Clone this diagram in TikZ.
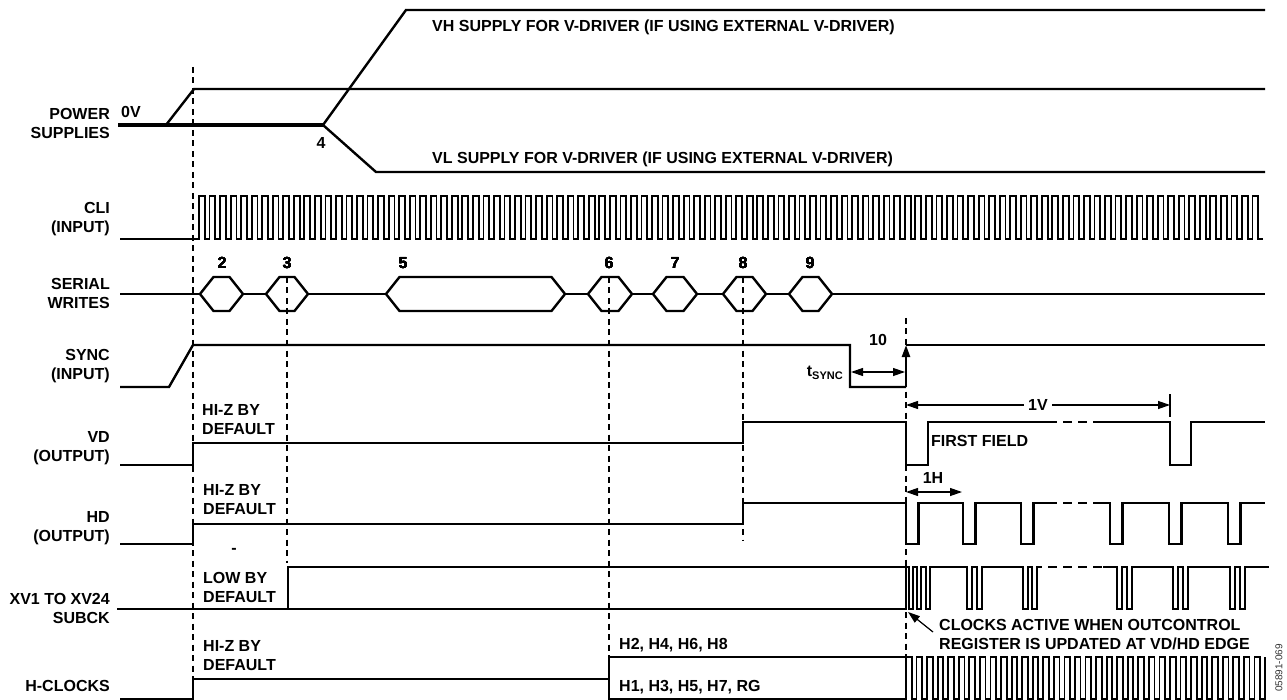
\documentclass[tikz,border=0pt]{standalone}
\usepackage{fontspec}
\setmainfont{Liberation Sans}
\usetikzlibrary{arrows.meta}

\tikzset{
  sig/.style={line width=2.4pt},
  clk/.style={line width=1.8pt},
  guide/.style={line width=1.5pt,dash pattern=on 6pt off 4.5pt},
  gap/.style={line width=2.4pt,dash pattern=on 9pt off 6pt,dash phase=9pt},
  lbl/.style={anchor=east,align=right,inner sep=0pt},
  note/.style={anchor=west,align=left,inner sep=0pt},
  arrtip/.style={-{Triangle[length=12pt,width=8pt]},line width=1.2pt},
  dimline/.style={{Triangle[length=12pt,width=8pt]}-{Triangle[length=12pt,width=8pt]},line width=1.2pt},
}

% one word on the serial bus, from left point to right point
\newcommand{\hexbox}[2]{%
  \draw[sig] (#1,294) -- ({#1+13.5},277) -- ({#2-13.5},277) -- (#2,294)
    -- ({#2-13.5},311) -- ({#1+13.5},311) -- cycle;}

\begin{document}
\begin{tikzpicture}[x=1pt,y=-1pt,line join=miter,font=\bfseries\fontsize{16}{19}\selectfont]
  \useasboundingbox (0,0) rectangle (1287,700);

  % ---- reference lines ---------------------------------------------------
  \draw[guide] (193,67) -- (193,700);
  \draw[guide] (287,277) -- (287,563);
  \draw[guide] (609,277) -- (609,657);
  \draw[guide] (743,277) -- (743,540);
  \draw[guide] (906,318) -- (906,700);

  % ---- signal names -------------------------------------------------------
  \node[lbl] (lPower) at (110,123) {POWER\\SUPPLIES};
  \node[lbl] (lCli)   at (110,219) {CLI\\(INPUT)};
  \node[lbl] (lSer)   at (110,293) {SERIAL\\WRITES};
  \node[lbl] (lSync)  at (110,366) {SYNC\\(INPUT)};
  \node[lbl] (lVd)    at (110,448) {VD\\(OUTPUT)};
  \node[lbl] (lHd)    at (110,528) {HD\\(OUTPUT)};
  \node[lbl] (lXv)    at (110,608) {XV1 TO XV24\\SUBCK};
  \node[lbl] (lHclk)  at (110,686) {H-CLOCKS};

  % ---- power supplies -----------------------------------------------------
  \draw[line width=4.5pt] (118,125) -- (323,125);
  \draw[sig] (166,125) -- (194,89) -- (1265,89);
  \draw[sig] (323,125) -- (406,10) -- (1265,10);
  \draw[sig] (323,125) -- (376,172) -- (1265,172);
  \node[note] (zeroV) at (121,112) {0V};
  \node (stepFour) at (321,143) {4};
  \node[note] (vhNote) at (432,27) {VH SUPPLY FOR V-DRIVER (IF USING EXTERNAL V-DRIVER)};
  \node[note] (vlNote) at (432,159) {VL SUPPLY FOR V-DRIVER (IF USING EXTERNAL V-DRIVER)};

  % ---- CLI ----------------------------------------------------------------
  \draw[clk] (120,239) -- (199,239) foreach \i in {0,...,100} {
      -- ({199+\i*10.535},196) -- ({204.8+\i*10.535},196)
      -- ({204.8+\i*10.535},239) -- ({209.535+\i*10.535},239) };

  % ---- serial writes ------------------------------------------------------
  \draw[sig] (120,294) -- (200,294);
  \foreach \a/\b in {243/266,308/386,565/588,632/653,697/723,766/789}
    \draw[sig] (\a,294) -- (\b,294);
  \draw[sig] (832,294) -- (1265,294);
  \foreach \a/\b in {200/243,266/308,386/565,588/632,653/697,723/766,789/832}
    \hexbox{\a}{\b}
  \foreach \x/\n in {222/2,287/3,403/5,609/6,675/7,743/8,810/9}
    \node (w\n) at (\x,263) {\n};

  % ---- SYNC ---------------------------------------------------------------
  \draw[sig] (120,387) -- (169,387) -- (193,345) -- (850,345) -- (850,387) -- (906,387);
  \draw[sig] (906,345) -- (1265,345);
  \coordinate (syncLow) at (906,387);
  \coordinate (syncHigh) at (906,345);
  \draw[arrtip,line width=2.4pt] (syncLow) -- (syncHigh);
  \coordinate (tsA) at (851,372);
  \coordinate (tsB) at (905,372);
  \draw[dimline] (tsA) -- (tsB);
  \node[anchor=east,inner sep=0pt] (tsync) at (843,373)
    {t\raisebox{-0.4ex}{\fontsize{11}{12}\selectfont SYNC}};
  \node (stepTen) at (878,340) {10};

  % ---- VD -----------------------------------------------------------------
  \draw[sig] (120,465) -- (193,465) -- (193,443) -- (743,443) -- (743,422) -- (906,422)
    -- (906,465) -- (928,465) -- (928,422) -- (1057,422);
  \draw[gap] (1057,422) -- (1098,422);
  \draw[sig] (1098,422) -- (1170,422) -- (1170,465) -- (1191,465) -- (1191,422) -- (1265,422);
  \node[note] (vdNote) at (202,420) {HI-Z BY\\DEFAULT};
  \node[note] (field) at (931,441) {FIRST FIELD};
  \coordinate (vStart) at (906,405);
  \coordinate (vEnd) at (1170,405);
  \draw[dimline] (vStart) -- node[fill=white,inner sep=4pt] (oneV) {1V} (vEnd);
  \draw[line width=1.2pt] (1170,394) -- (1170,417);

  % ---- HD -----------------------------------------------------------------
  \draw[sig] (120,544) -- (193,544) -- (193,524) -- (743,524) -- (743,503) -- (906,503)
    foreach \t in {906,963,1021} { -- (\t,503) -- (\t,544) -- ({\t+12.5},544) -- ({\t+12.5},503) }
    -- (1057,503);
  \draw[gap] (1057,503) -- (1100,503);
  \draw[sig] (1100,503)
    foreach \t in {1110,1169,1228} { -- (\t,503) -- (\t,544) -- ({\t+12.5},544) -- ({\t+12.5},503) }
    -- (1265,503);
  \node[note] (hdNote) at (203,500) {HI-Z BY\\DEFAULT};
  \coordinate (hStart) at (906,492);
  \coordinate (hEnd) at (962,492);
  \draw[dimline] (hStart) -- (hEnd);
  \node (oneH) at (933,478) {1H};
  \node (tick) at (234,551) {-};

  % ---- XV / SUBCK ---------------------------------------------------------
  \draw[sig] (117,609) -- (906,609) -- (906,567);
  \draw[sig] (288,609) -- (288,567) -- (906,567);
  \draw[line width=2pt] (906,567)
    foreach \t in {909,917,926} { -- (\t,567) -- (\t,609) -- ({\t+4},609) -- ({\t+4},567) }
    foreach \t in {967,977,1023,1032} { -- (\t,567) -- (\t,609) -- ({\t+5},609) -- ({\t+5},567) }
    -- (1042,567);
  \draw[gap] (1042,567) -- (1103,567);
  \draw[line width=2pt] (1103,567)
    foreach \t in {1117,1127,1173,1183,1230,1240} { -- (\t,567) -- (\t,609) -- ({\t+5},609) -- ({\t+5},567) }
    -- (1269,567);
  \node[note] (xvNote) at (203,587) {LOW BY\\DEFAULT};
  \node[note] (clkNote) at (939,635) {CLOCKS ACTIVE WHEN OUTCONTROL\\REGISTER IS UPDATED AT VD/HD EDGE};
  \coordinate (clkTail) at (933,632);
  \coordinate (clkHead) at (908,612);
  \draw[arrtip] (clkTail) -- (clkHead);

  % ---- H-clocks -----------------------------------------------------------
  \draw[sig] (120,699) -- (193,699) -- (193,679) -- (609,679);
  \draw[sig] (609,657) rectangle (906,699);
  \draw[clk] (906,657) foreach \i in {0,...,33} {
      -- ({911.6+\i*10.56},657) -- ({911.6+\i*10.56},699)
      -- ({916.56+\i*10.56},699) -- ({916.56+\i*10.56},657) };
  \node[note] (hcNote) at (203,656) {HI-Z BY\\DEFAULT};
  \node[note] (evenH) at (619,645) {H2, H4, H6, H8};
  \node[note] (oddH) at (619,687) {H1, H3, H5, H7, RG};

  \node[rotate=90,font=\fontsize{10}{12}\selectfont,text=black!80] (figNo) at (1279,668) {05891-069};
\end{tikzpicture}
\end{document}
